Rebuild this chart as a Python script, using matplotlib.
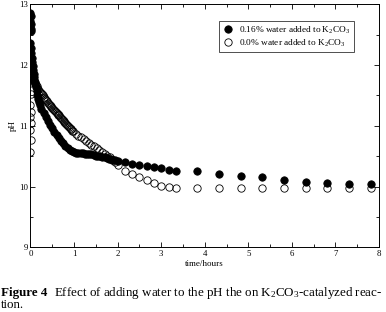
import numpy as np
import matplotlib
matplotlib.use('Agg')
import matplotlib.pyplot as plt

plt.rcParams['font.family'] = ['Liberation Serif', 'DejaVu Serif']
plt.rcParams['mathtext.fontset'] = 'custom'
plt.rcParams['mathtext.rm'] = 'Liberation Serif'
plt.rcParams['mathtext.it'] = 'Liberation Serif:italic'

#############################################################
''' Data read off the figure '''

# 0.16 % water added (filled circles)
t_016 = [0.0, 0.005, 0.0, 0.01, 0.005, 0.01,
         0.0, 0.01, 0.02, 0.03, 0.04, 0.05, 0.06, 0.07, 0.08, 0.09, 0.1, 0.11, 0.12,
         0.14, 0.16, 0.18, 0.2, 0.22, 0.25, 0.3, 0.35, 0.4, 0.45, 0.5, 0.55, 0.6,
         0.65, 0.7, 0.75, 0.8, 0.85, 0.9, 0.95, 1.0, 1.05, 1.1, 1.15, 1.2, 1.25,
         1.3, 1.35, 1.4, 1.45, 1.5, 1.55, 1.6, 1.65, 1.7, 1.75, 1.8, 1.85, 1.9,
         1.95, 2.0, 2.17, 2.34, 2.5, 2.67, 2.84, 3.0, 3.17, 3.34,
         3.83, 4.33, 4.83, 5.32, 5.82, 6.32, 6.81, 7.31, 7.81]
ph_016 = [12.86, 12.8, 12.73, 12.67, 12.6, 12.56,
          12.36, 12.28, 12.2, 12.12, 12.05, 11.98, 11.92, 11.86, 11.81, 11.76, 11.72, 11.68, 11.64,
          11.57, 11.5, 11.44, 11.39, 11.34, 11.28, 11.21, 11.14, 11.08, 11.02, 10.96, 10.9, 10.85,
          10.8, 10.75, 10.71, 10.67, 10.64, 10.61, 10.59, 10.57, 10.56, 10.56, 10.55, 10.55, 10.54,
          10.54, 10.53, 10.53, 10.52, 10.51, 10.51, 10.5, 10.49, 10.48, 10.47, 10.46, 10.45, 10.44,
          10.43, 10.42, 10.40, 10.38, 10.36, 10.34, 10.32, 10.31, 10.28, 10.26,
          10.25, 10.2, 10.17, 10.15, 10.11, 10.08, 10.06, 10.05, 10.05]

# 0.0 % water added (open circles)
t_00 = [0.0, 0.005, 0.0, 0.005, 0.0, 0.005, 0.0, 0.005, 0.0,
        0.03, 0.05, 0.07, 0.1, 0.12, 0.14, 0.16, 0.18, 0.2, 0.22, 0.24, 0.26, 0.28,
        0.3, 0.32, 0.34, 0.36, 0.38, 0.4, 0.42, 0.44, 0.46, 0.48, 0.5,
        0.52, 0.54, 0.56, 0.58, 0.6, 0.62, 0.64, 0.66, 0.68, 0.7, 0.72, 0.74, 0.76,
        0.78, 0.8, 0.82, 0.84, 0.86, 0.88, 0.9, 0.92, 0.94, 0.96, 0.98,
        1.04, 1.1, 1.16, 1.22, 1.28, 1.34, 1.4, 1.46, 1.52, 1.58, 1.64, 1.7, 1.76,
        1.82, 1.88, 1.94, 2.0, 2.17, 2.34, 2.5, 2.67, 2.84, 3.0, 3.17, 3.34,
        3.83, 4.33, 4.83, 5.32, 5.82, 6.32, 6.81, 7.31, 7.81]
ph_00 = [11.70, 11.53, 11.34, 11.23, 11.15, 11.04, 10.93, 10.77, 10.57,
         11.8, 11.77, 11.74, 11.7, 11.67, 11.65, 11.62, 11.6, 11.58, 11.56, 11.54, 11.52, 11.5,
         11.48, 11.46, 11.44, 11.42, 11.4, 11.38, 11.36, 11.35, 11.33, 11.31, 11.3,
         11.28, 11.26, 11.25, 11.23, 11.21, 11.2, 11.18, 11.17, 11.15, 11.13, 11.11, 11.1, 11.08,
         11.06, 11.05, 11.03, 11.01, 11.0, 10.98, 10.97, 10.95, 10.94, 10.92, 10.91,
         10.87, 10.84, 10.81, 10.78, 10.75, 10.72, 10.69, 10.66, 10.63, 10.6, 10.57, 10.54, 10.51,
         10.48, 10.44, 10.4, 10.35, 10.25, 10.2, 10.15, 10.11, 10.06, 10.01, 9.99, 9.98,
         9.98, 9.98, 9.98, 9.98, 9.98, 9.98, 9.98, 9.98, 9.98]

labels = ['0.16% water added to K$_2$CO$_3$', '0.0% water added to K$_2$CO$_3$']

#############################################################
''' Plot '''

fig = plt.figure(figsize=(3.86, 3.12), dpi=100)
ax = fig.add_axes([0.079, 0.207, 0.903, 0.7795])

ax.plot(t_016, ph_016, 'o', color='black', markersize=5.3, markeredgewidth=0.6, label=labels[0])
ax.plot(t_00, ph_00, 'o', markerfacecolor='none', markeredgecolor='black',
        markersize=5.3, markeredgewidth=0.6, label=labels[1])

ax.set_xlim(0, 8)
ax.set_ylim(9, 13)
ax.set_xticks(np.arange(0, 9, 1))
ax.set_xticks(np.arange(0, 8.5, 0.5), minor=True)
ax.set_yticks(np.arange(9, 14, 1))
ax.set_yticks(np.arange(9, 13.5, 0.5), minor=True)
ax.tick_params(which='both', direction='in', top=True, right=True, labelsize=6.3, width=0.6, pad=2)
ax.tick_params(which='major', length=3.5)
ax.tick_params(which='minor', length=2)
for s in ax.spines.values():
    s.set_linewidth(0.7)

ax.set_xlabel('time/hours', fontsize=6.5, labelpad=1)
ax.set_ylabel('pH', fontsize=6.5, labelpad=1)

leg = ax.legend(loc='upper right', bbox_to_anchor=(0.928, 0.932), borderaxespad=0,
                fontsize=6.7, frameon=True, fancybox=False, handletextpad=0.6,
                borderpad=0.4, labelspacing=0.2, handlelength=1.2)
leg.get_frame().set_edgecolor('black')
leg.get_frame().set_linewidth(0.6)

# caption
cap1 = fig.text(0.003, 0.052, 'Figure 4', fontsize=9.4, fontweight='bold', va='baseline')
fig.canvas.draw()
bb = cap1.get_window_extent()
x2 = (bb.x1 + 6) / fig.bbox.width
fig.text(x2, 0.052, 'Effect of adding water to the pH the on K$_2$CO$_3$-catalyzed reac-',
         fontsize=9.4, va='baseline')
fig.text(0.003, 0.013, 'tion.', fontsize=9.4, va='baseline')

fig.savefig('out.png', dpi=100)
